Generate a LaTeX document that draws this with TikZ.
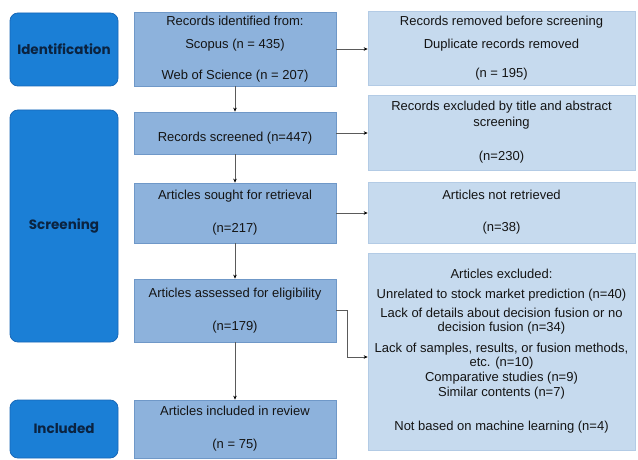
\documentclass[tikz,border=0pt]{standalone}
\usepackage{fontspec}
\setmainfont{Liberation Sans}
\newfontfamily\labfont{Poppins}
\usetikzlibrary{arrows.meta}
\definecolor{phase}{HTML}{1B7FD6}
\definecolor{phaseborder}{HTML}{1868B8}
\definecolor{phasetext}{HTML}{0B2340}
\definecolor{midfill}{HTML}{8DB2DC}
\definecolor{midborder}{HTML}{6F98C8}
\definecolor{rightfill}{HTML}{C6DAEE}
\definecolor{rightborder}{HTML}{B3CBE5}
\definecolor{txt}{HTML}{141414}
\definecolor{conn}{HTML}{5A5A5A}
\tikzset{
  phasebox/.style={draw=phaseborder, line width=0.8pt, fill=phase, rounded corners=8pt,
    minimum width=108pt, inner sep=0pt, text=phasetext, font=\labfont\bfseries\fontsize{13.5}{15}\selectfont},
  midbox/.style={draw=midborder, line width=0.7pt, fill=midfill, minimum width=202pt,
    inner sep=0pt, align=center, text=txt},
  rightbox/.style={draw=rightborder, line width=0.7pt, fill=rightfill, minimum width=267pt,
    inner sep=0pt, align=center, text=txt},
  flow/.style={draw=conn, line width=0.7pt, -{Stealth[length=4pt,width=3.5pt,black]}}
}
\begin{document}
\begin{tikzpicture}[x=1pt,y=-1pt]
\useasboundingbox[fill=white] (0,0) rectangle (638,460);
% phase labels
\node[phasebox, minimum height=73pt] (ident) at (64,49.5) {Identification};
\node[phasebox, minimum height=232pt] (screen) at (64,226) {Screening};
\node[phasebox, minimum height=58pt] (incl) at (64,429) {Included};
% middle column
\node[midbox, minimum height=74pt, font=\fontsize{13}{23}\selectfont] (ident1) at (235,49)
  {Records identified from:\\Scopus (n = 435)\\[8pt]Web of Science (n = 207)};
\node[midbox, minimum height=42pt, font=\fontsize{13}{15}\selectfont] (scr) at (235,133)
  {\raisebox{-8.5pt}[0pt][0pt]{Records screened (n=447)}};
\node[midbox, minimum height=60pt, font=\fontsize{13}{33}\selectfont] (sought) at (235,213)
  {Articles sought for retrieval\\(n=217)};
\node[midbox, minimum height=63pt, font=\fontsize{13}{33}\selectfont] (assess) at (235,310.5)
  {Articles assessed for eligibility\\(n=179)};
\node[midbox, minimum height=58pt, font=\fontsize{13}{33}\selectfont] (included) at (235,429)
  {Articles included in review\\(n = 75)};
% right column
\node[rightbox, minimum height=74pt, font=\fontsize{13}{23}\selectfont] (removed) at (501.5,48.5)
  {Records removed before screening\\Duplicate records removed\\[6pt](n = 195)};
\node[rightbox, minimum height=75pt, font=\fontsize{13}{16}\selectfont] (excl1) at (501.5,132.5)
  {Records excluded by title and abstract\\screening\\[18pt](n=230)};
\node[rightbox, minimum height=61pt, font=\fontsize{13}{32}\selectfont] (notret) at (501.5,212.5)
  {Articles not retrieved\\(n=38)};
\node[rightbox, minimum height=197pt, font=\fontsize{13}{14}\selectfont] (excl2) at (501.5,351.5)
  {Articles excluded:\\[6pt]Unrelated to stock market prediction (n=40)\\[5pt]Lack of details about decision fusion or no\\decision fusion (n=34)\\[7pt]Lack of samples, results, or fusion methods,\\etc. (n=10)\\[1pt]Comparative studies (n=9)\\[1pt]Similar contents (n=7)\\[20pt]Not based on machine learning (n=4)};
% connectors
\draw[flow] (ident1) -- (scr);
\draw[flow] (scr) -- (sought);
\draw[flow] (sought) -- (assess);
\draw[flow] (assess) -- (included);
\draw[flow] (ident1.east) -- (ident1.east -| removed.west);
\draw[flow] (scr.east) -- (scr.east -| excl1.west);
\draw[flow] (sought.east) -- (sought.east -| notret.west);
\coordinate (bend) at (347,357);
\draw[flow] (assess.east) -| (bend) -- (bend -| excl2.west);
\end{tikzpicture}
\end{document}
